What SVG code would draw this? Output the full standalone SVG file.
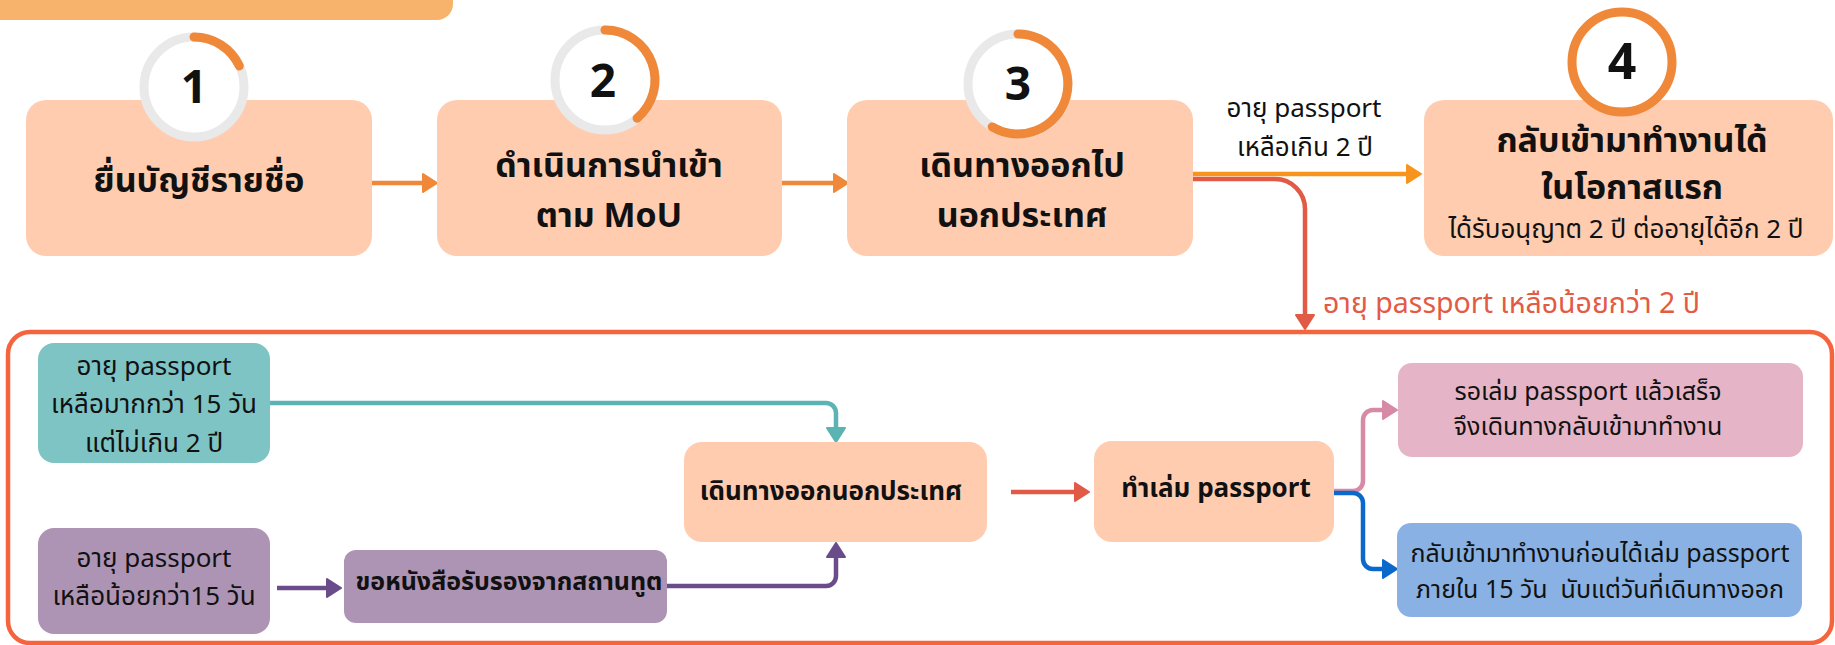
<svg xmlns="http://www.w3.org/2000/svg" width="1835" height="645" viewBox="0 0 1835 645">
<defs>
<style>
text{font-family:"Noto Sans Thai","Noto Sans Thai UI","Noto Sans","Liberation Sans",sans-serif;fill:#111;text-anchor:middle}
.b{font-weight:700}
.t34{font-size:34px;font-weight:700}
.num{font-family:"Noto Sans","Liberation Sans",sans-serif;font-size:46px;font-weight:700}
.t26{font-size:26px}
.t25{font-size:25px}
.peach{fill:#FFCCB0}
.ring{fill:#fff;stroke:#E9E9E9;stroke-width:9}
.arc{fill:none;stroke:#F0883A;stroke-width:9;stroke-linecap:round}
.ln{fill:none;stroke-width:4.5}
</style>
<marker id="mO" viewBox="0 0 16 20" refX="5" refY="10" markerWidth="16" markerHeight="20" markerUnits="userSpaceOnUse" orient="auto"><path d="M1,1 L15,10 L1,19 z" fill="#F0883A" stroke="#F0883A" stroke-width="2" stroke-linejoin="round"/></marker>
<marker id="mY" viewBox="0 0 16 20" refX="5" refY="10" markerWidth="16" markerHeight="20" markerUnits="userSpaceOnUse" orient="auto"><path d="M1,1 L15,10 L1,19 z" fill="#F7941D" stroke="#F7941D" stroke-width="2" stroke-linejoin="round"/></marker>
<marker id="mR" viewBox="0 0 16 20" refX="5" refY="10" markerWidth="16" markerHeight="20" markerUnits="userSpaceOnUse" orient="auto"><path d="M1,1 L15,10 L1,19 z" fill="#E05A45" stroke="#E05A45" stroke-width="2" stroke-linejoin="round"/></marker>
<marker id="mT" viewBox="0 0 16 20" refX="5" refY="10" markerWidth="16" markerHeight="20" markerUnits="userSpaceOnUse" orient="auto"><path d="M1,1 L15,10 L1,19 z" fill="#5BB3B3" stroke="#5BB3B3" stroke-width="2" stroke-linejoin="round"/></marker>
<marker id="mP" viewBox="0 0 16 20" refX="5" refY="10" markerWidth="16" markerHeight="20" markerUnits="userSpaceOnUse" orient="auto"><path d="M1,1 L15,10 L1,19 z" fill="#6B4C8A" stroke="#6B4C8A" stroke-width="2" stroke-linejoin="round"/></marker>
<marker id="mK" viewBox="0 0 16 20" refX="5" refY="10" markerWidth="16" markerHeight="20" markerUnits="userSpaceOnUse" orient="auto"><path d="M1,1 L15,10 L1,19 z" fill="#D68AA5" stroke="#D68AA5" stroke-width="2" stroke-linejoin="round"/></marker>
<marker id="mB" viewBox="0 0 16 20" refX="5" refY="10" markerWidth="16" markerHeight="20" markerUnits="userSpaceOnUse" orient="auto"><path d="M1,1 L15,10 L1,19 z" fill="#0B69CC" stroke="#0B69CC" stroke-width="2" stroke-linejoin="round"/></marker>
</defs>
<rect width="1835" height="645" fill="#fff"/>
<rect id="banner" x="-30" y="-40" width="483" height="60" rx="16" fill="#F7B36B"/>
<rect id="group-frame" x="8" y="332" width="1824" height="311" rx="22" fill="none" stroke="#F5643D" stroke-width="4.5"/>

<g id="connectors">
<path class="ln" d="M372,183 H427" stroke="#F0883A" marker-end="url(#mO)"/>
<path class="ln" d="M782,183 H838" stroke="#F0883A" marker-end="url(#mO)"/>
<path class="ln" d="M1193,179 H1275 A30,30 0 0 1 1305,209 V319" stroke="#E05A45" marker-end="url(#mR)"/>
<path class="ln" d="M1193,174 H1411" stroke="#F7941D" stroke-width="4" marker-end="url(#mY)"/>
<path class="ln" d="M270,403 H826 A10,10 0 0 1 836,413 V432" stroke="#5BB3B3" marker-end="url(#mT)"/>
<path class="ln" d="M277,588 H331" stroke="#6B4C8A" marker-end="url(#mP)"/>
<path class="ln" d="M667,586 H826 A10,10 0 0 0 836,576 V553" stroke="#6B4C8A" marker-end="url(#mP)"/>
<path class="ln" d="M1011,492 H1079" stroke="#E05A45" marker-end="url(#mR)"/>
<path class="ln" d="M1334,491 H1353 A10,10 0 0 0 1363,481 V420 A10,10 0 0 1 1373,410 H1387" stroke="#D68AA5" marker-end="url(#mK)"/>
<path class="ln" d="M1334,493 H1353 A10,10 0 0 1 1363,503 V559 A10,10 0 0 0 1373,569 H1387" stroke="#0B69CC" stroke-width="5" marker-end="url(#mB)"/>
<text class="t26" x="1304" y="117">อายุ passport</text>
<text class="t26" x="1305" y="156">เหลือเกิน 2 ปี</text>
<text x="1323" y="313" style="font-size:28.5px;text-anchor:start;fill:#E35A45">อายุ passport เหลือน้อยกว่า 2 ปี</text>
</g>

<g id="step1">
<rect class="peach" x="26" y="100" width="346" height="156" rx="20"/>
<circle class="ring" cx="194" cy="87" r="50"/>
<path class="arc" d="M194,37 A50,50 0 0 1 239.3,65.9"/>
<text class="num" x="194" y="103">1</text>
<text class="t34" x="199" y="192">ยื่นบัญชีรายชื่อ</text>
</g>

<g id="step2">
<rect class="peach" x="437" y="100" width="345" height="156" rx="20"/>
<circle class="ring" cx="605" cy="80" r="50"/>
<path class="arc" d="M605,30 A50,50 0 0 1 637.1,118.3"/>
<text class="num" x="603" y="97">2</text>
<text class="t34" x="609" y="177">ดำเนินการนำเข้า</text>
<text class="t34" x="609" y="227">ตาม MoU</text>
</g>

<g id="step3">
<rect class="peach" x="847" y="100" width="346" height="156" rx="20"/>
<circle class="ring" cx="1018" cy="84" r="50"/>
<path class="arc" d="M1018,34 A50,50 0 1 1 992.2,126.9"/>
<text class="num" x="1018" y="100">3</text>
<text class="t34" x="1022" y="177">เดินทางออกไป</text>
<text class="t34" x="1022" y="227">นอกประเทศ</text>
</g>

<g id="step4">
<rect class="peach" x="1424" y="100" width="409" height="156" rx="20"/>
<circle cx="1622" cy="62" r="50" fill="#fff" stroke="#F0883A" stroke-width="9"/>
<text class="num" x="1622" y="79" style="font-size:50px">4</text>
<text class="t34" x="1632" y="152">กลับเข้ามาทำงานได้</text>
<text class="t34" x="1632" y="199">ในโอกาสแรก</text>
<text class="t26" x="1626" y="238">ได้รับอนุญาต 2 ปี ต่ออายุได้อีก 2 ปี</text>
</g>

<g id="teal-case">
<rect x="38" y="343" width="232" height="120" rx="16" fill="#7EC4C5"/>
<text class="t26" x="154" y="375">อายุ passport</text>
<text class="t26" x="154" y="413">เหลือมากกว่า 15 วัน</text>
<text class="t26" x="154" y="452">แต่ไม่เกิน 2 ปี</text>
</g>

<g id="purple-case">
<rect x="38" y="528" width="232" height="106" rx="16" fill="#AE94B4"/>
<text class="t26" x="154" y="567">อายุ passport</text>
<text class="t26" x="154" y="605">เหลือน้อยกว่า15 วัน</text>
</g>

<g id="embassy">
<rect x="344" y="550" width="323" height="73" rx="12" fill="#AE94B4"/>
<text class="b" x="509" y="590" style="font-size:25px">ขอหนังสือรับรองจากสถานทูต</text>
</g>

<g id="travel-out">
<rect class="peach" x="684" y="442" width="303" height="100" rx="18"/>
<text class="b" x="831" y="500" style="font-size:26px">เดินทางออกนอกประเทศ</text>
</g>

<g id="make-passport">
<rect class="peach" x="1094" y="441" width="240" height="101" rx="18"/>
<text class="b" x="1216" y="497" style="font-size:26px">ทำเล่ม passport</text>
</g>

<g id="wait-passport">
<rect x="1398" y="363" width="405" height="94" rx="14" fill="#E5B4C6"/>
<text class="t25" x="1588" y="400">รอเล่ม passport แล้วเสร็จ</text>
<text class="t25" x="1588" y="435">จึงเดินทางกลับเข้ามาทำงาน</text>
</g>

<g id="return-early">
<rect x="1397" y="523" width="405" height="94" rx="14" fill="#8AB1E3"/>
<text class="t25" x="1600" y="562">กลับเข้ามาทำงานก่อนได้เล่ม passport</text>
<text class="t25" x="1600" y="598" style="white-space:pre">ภายใน 15 วัน  นับแต่วันที่เดินทางออก</text>
</g>
</svg>
